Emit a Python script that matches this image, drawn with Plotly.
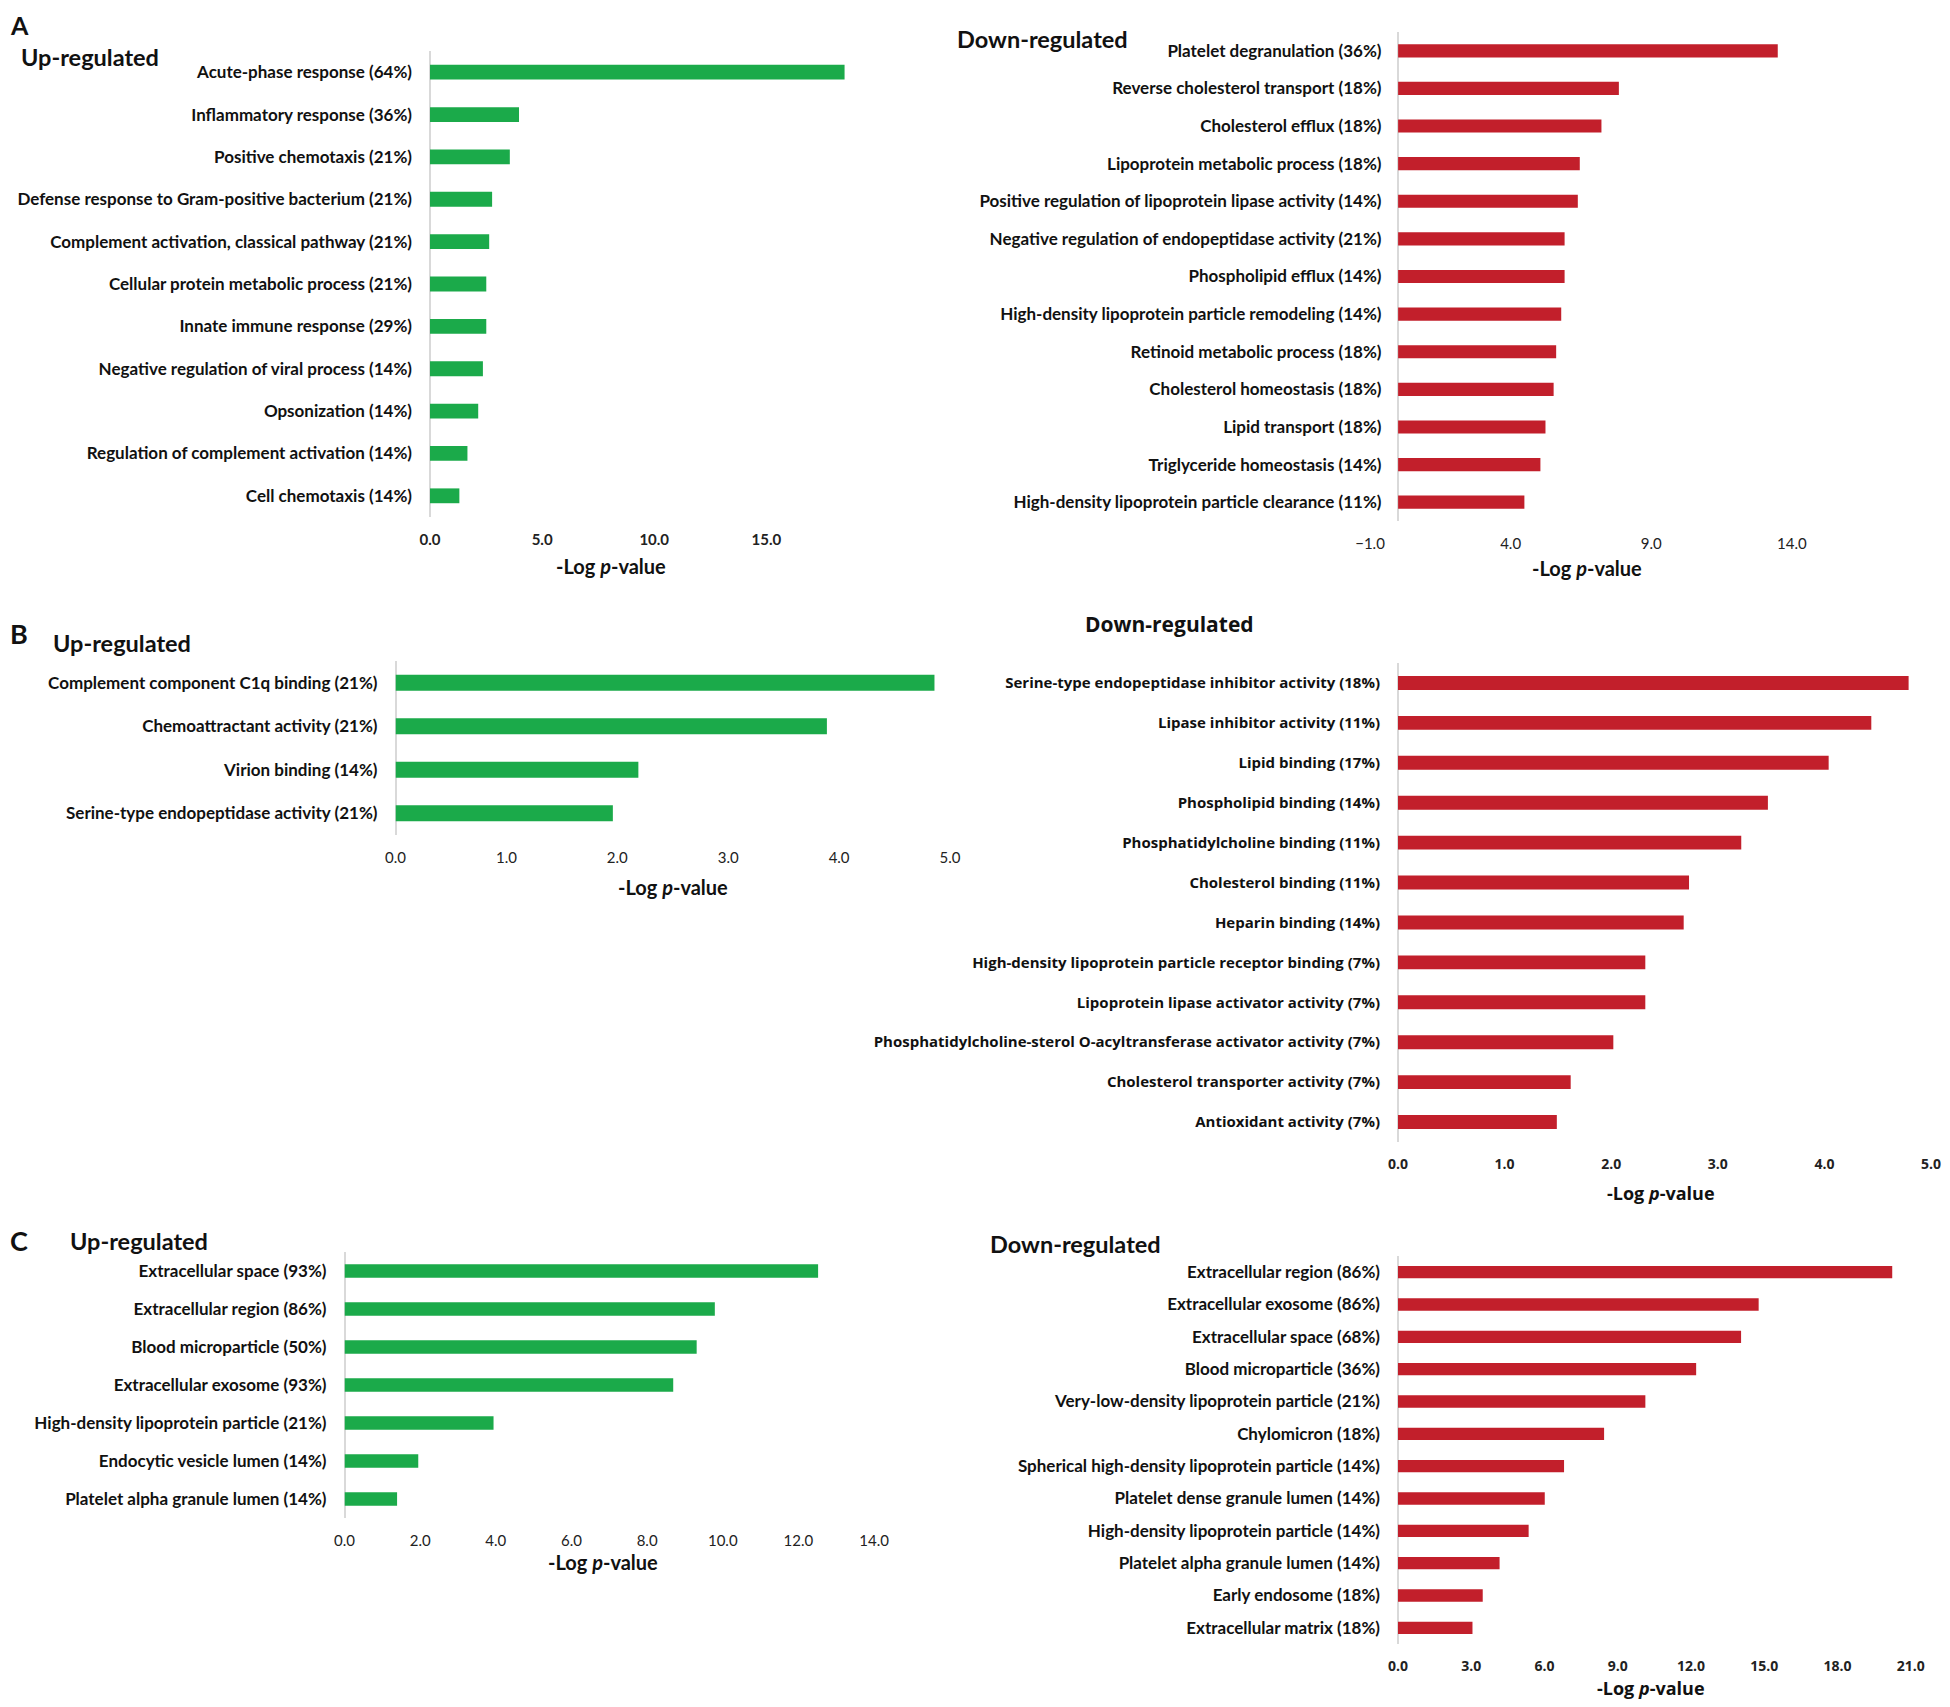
import plotly.graph_objects as go

# The page body adds an 8 px margin, so the figure is drawn 8 px smaller and
# every target position (in screenshot pixels) is shifted back by OFF.
SW, SH = 1950, 1707
OFF = 8
W, H = SW - 2 * OFF, SH - 2 * OFF

GREEN = "#1BAA4A"
RED = "#C21F2B"
AXIS_GRAY = "#D9D9D9"

# ---------------- Data ----------------
a_up_terms = ["Acute-phase response (64%)", "Inflammatory response (36%)", "Positive chemotaxis (21%)",
              "Defense response to Gram-positive bacterium (21%)", "Complement activation, classical pathway (21%)",
              "Cellular protein metabolic process (21%)", "Innate immune response (29%)",
              "Negative regulation of viral process (14%)", "Opsonization (14%)",
              "Regulation of complement activation (14%)", "Cell chemotaxis (14%)"]
a_up_vals = [18.49, 3.97, 3.56, 2.77, 2.64, 2.51, 2.51, 2.36, 2.15, 1.67, 1.31]

a_down_terms = ["Platelet degranulation (36%)", "Reverse cholesterol transport (18%)", "Cholesterol efflux (18%)",
                "Lipoprotein metabolic process (18%)", "Positive regulation of lipoprotein lipase activity (14%)",
                "Negative regulation of endopeptidase activity (21%)", "Phospholipid efflux (14%)",
                "High-density lipoprotein particle remodeling (14%)", "Retinoid metabolic process (18%)",
                "Cholesterol homeostasis (18%)", "Lipid transport (18%)", "Triglyceride homeostasis (14%)",
                "High-density lipoprotein particle clearance (11%)"]
a_down_vals = [13.5, 7.85, 7.23, 6.46, 6.39, 5.92, 5.92, 5.80, 5.62, 5.53, 5.24, 5.06, 4.49]

b_up_terms = ["Complement component C1q binding (21%)", "Chemoattractant activity (21%)",
              "Virion binding (14%)", "Serine-type endopeptidase activity (21%)"]
b_up_vals = [4.86, 3.89, 2.19, 1.96]

b_down_terms = ["Serine-type endopeptidase inhibitor activity (18%)", "Lipase inhibitor activity (11%)",
                "Lipid binding (17%)", "Phospholipid binding (14%)", "Phosphatidylcholine binding (11%)",
                "Cholesterol binding (11%)", "Heparin binding (14%)",
                "High-density lipoprotein particle receptor binding (7%)",
                "Lipoprotein lipase activator activity (7%)",
                "Phosphatidylcholine-sterol O-acyltransferase activator activity (7%)",
                "Cholesterol transporter activity (7%)", "Antioxidant activity (7%)"]
b_down_vals = [4.79, 4.44, 4.04, 3.47, 3.22, 2.73, 2.68, 2.32, 2.32, 2.02, 1.62, 1.49]

c_up_terms = ["Extracellular space (93%)", "Extracellular region (86%)", "Blood microparticle (50%)",
              "Extracellular exosome (93%)", "High-density lipoprotein particle (21%)",
              "Endocytic vesicle lumen (14%)", "Platelet alpha granule lumen (14%)"]
c_up_vals = [12.52, 9.79, 9.31, 8.69, 3.94, 1.95, 1.39]

c_down_terms = ["Extracellular region (86%)", "Extracellular exosome (86%)", "Extracellular space (68%)",
                "Blood microparticle (36%)", "Very-low-density lipoprotein particle (21%)", "Chylomicron (18%)",
                "Spherical high-density lipoprotein particle (14%)", "Platelet dense granule lumen (14%)",
                "High-density lipoprotein particle (14%)", "Platelet alpha granule lumen (14%)",
                "Early endosome (18%)", "Extracellular matrix (18%)"]
c_down_vals = [20.24, 14.77, 14.05, 12.21, 10.13, 8.44, 6.80, 6.01, 5.35, 4.16, 3.47, 3.05]

NARROW = "Lato, 'Liberation Sans Narrow', sans-serif"
WIDE = "'Open Sans', 'Noto Sans', sans-serif"

fig = go.Figure()


def px_x(a):
    return (a - OFF) / W


def xd(a, b):
    return [px_x(a), px_x(b)]


def yd(top, bottom):
    return [1 - (bottom - OFF) / H, 1 - (top - OFF) / H]


def add_panel(i, terms, vals, color, xdom, ydom, xrange, tick0, dtick,
              catfont, tickfont, bar_w=0.35, label_x=None):
    sx = "" if i == 1 else str(i)
    fig.add_trace(go.Bar(
        x=vals, y=terms, orientation="h", marker=dict(color=color, line=dict(width=0)),
        width=bar_w, xaxis="x" + sx, yaxis="y" + sx, showlegend=False,
        hovertemplate="%{y}: %{x:.2f}<extra></extra>"))
    yax = dict(domain=yd(*ydom), autorange="reversed", type="category",
               showgrid=False, showline=False, zeroline=False, ticks="",
               ticklabelstandoff=17, tickfont=catfont, anchor="x" + sx,
               fixedrange=True, automargin=False)
    if label_x is not None:
        yax["anchor"] = "free"
        yax["position"] = px_x(label_x)
    fig.update_layout(**{
        "xaxis" + sx: dict(domain=xd(*xdom), range=xrange, tick0=tick0, dtick=dtick,
                           tickformat=".1f", showgrid=False, showline=False,
                           zeroline=True, zerolinecolor=AXIS_GRAY, zerolinewidth=1.5,
                           ticks="", ticklabelstandoff=12, tickfont=tickfont,
                           anchor="y" + sx, fixedrange=True, automargin=False),
        "yaxis" + sx: yax,
    })


CAT = dict(family=NARROW, size=17, color="#111111", weight="bold")
TICK = dict(family=NARROW, size=15, color="#222222")
TICK_B = dict(family=NARROW, size=15, color="#222222", weight="bold")
TICK_W = dict(family=WIDE, size=14, color="#222222", weight="bold")

# A up
add_panel(1, a_up_terms, a_up_vals, GREEN, (430, 856), (51, 517), [0, 19], 0, 5, CAT, TICK_B)
# A down (axis starts at -1, category labels sit next to the zero line)
add_panel(2, a_down_terms, a_down_vals, RED, (1370, 1834), (32, 521), [-1, 15.5], -1, 5, CAT, TICK,
          label_x=1398.5)
# B up
add_panel(3, b_up_terms, b_up_vals, GREEN, (395.5, 950), (661, 835), [0, 5], 0, 1, CAT, TICK,
          bar_w=0.37)
# B down
add_panel(4, b_down_terms, b_down_vals, RED, (1398, 1931), (663, 1142), [0, 5], 0, 1,
          dict(family=WIDE, size=15, color="#111111", weight="bold"), TICK_W)
# C up
add_panel(5, c_up_terms, c_up_vals, GREEN, (344.5, 893), (1252, 1518), [0, 14.5], 0, 2, CAT, TICK)
# C down
add_panel(6, c_down_terms, c_down_vals, RED, (1398, 1923), (1256, 1644), [0, 21.5], 0, 3, CAT,
          TICK_W, bar_w=0.38)


def ann(text, x, y, size, family=NARROW, xanchor="left", yanchor="middle"):
    fig.add_annotation(text=text, x=(x - OFF) / W, y=1 - (y - OFF) / H, xref="paper", yref="paper",
                       showarrow=False, xanchor=xanchor, yanchor=yanchor,
                       font=dict(family=family, size=size, color="#111111"))


# Panel letters
ann("<b>A</b>", 8, 8, 25, yanchor="top")
ann("<b>B</b>", 8, 633, 27)
ann("<b>C</b>", 8, 1240, 27)

# Headers
ann("<b>Up-regulated</b>", 19, 57, 23.5)
ann("<b>Down-regulated</b>", 955, 39, 23.5)
ann("<b>Up-regulated</b>", 51, 643, 23.5)
ann("<b>Down-regulated</b>", 1169, 624, 21, family=WIDE, xanchor="center")
ann("<b>Up-regulated</b>", 68, 1241, 23.5)
ann("<b>Down-regulated</b>", 988, 1244, 23.5)

# Axis titles
xt = "<b>-Log <i>p</i>-value</b>"
ann(xt, 611, 566, 20, xanchor="center")
ann(xt, 1587, 568, 20, xanchor="center")
ann(xt, 673, 887, 20, xanchor="center")
ann(xt, 1661, 1193, 18, family=WIDE, xanchor="center")
ann(xt, 603, 1562, 20, xanchor="center")
ann(xt, 1651, 1688, 18, family=WIDE, xanchor="center")

fig.update_layout(width=W, height=H, margin=dict(l=0, r=0, t=0, b=0, autoexpand=False),
                  paper_bgcolor="white", plot_bgcolor="white", bargap=0.65)

fig.write_html("out.html")
